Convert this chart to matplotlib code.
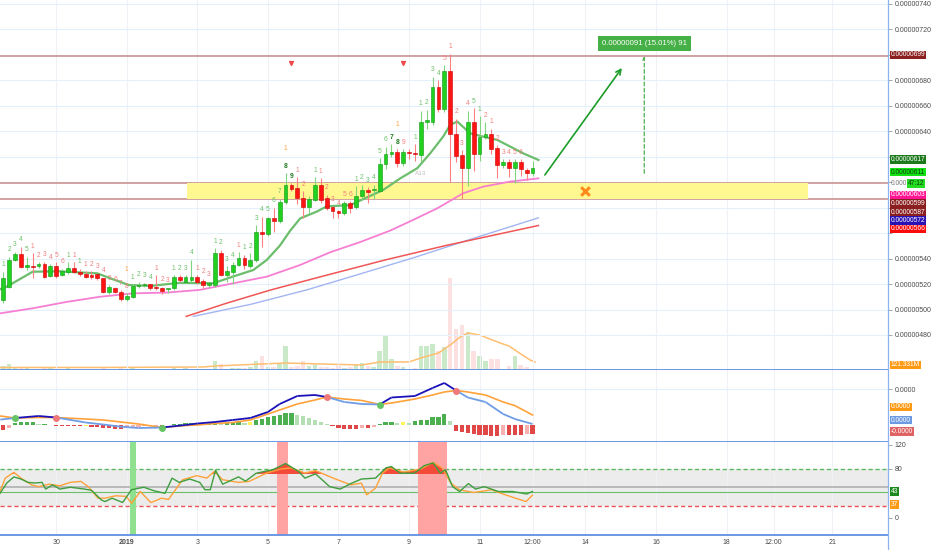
import matplotlib
matplotlib.use("Agg")
import matplotlib.pyplot as plt
from matplotlib.collections import LineCollection
from matplotlib.lines import Line2D
from matplotlib.patches import Rectangle
import numpy as np

plt.rcParams["font.family"] = ["Liberation Sans", "DejaVu Sans"]

# ---- 4h candles, 28 Dec 12:00 -> 12 Jan 12:00, prices in satoshi ----
opens = [507.5, 518.0, 538.9, 543.4, 533.5, 534.5, 534.0, 535.5, 526.6, 534.5,
         527.1, 529.2, 532.4, 529.7, 527.6, 527.0, 527.6, 524.5, 514.0, 517.2,
         514.0, 508.3, 510.1, 518.4, 519.0, 519.8, 518.0, 517.0, 516.4, 516.7,
         525.8, 521.9, 523.2, 525.3, 522.7, 519.3, 519.3, 544.2, 527.1, 529.7,
         535.0, 540.2, 534.2, 538.9, 561.2, 559.3, 571.6, 569.8, 584.7, 597.8,
         595.2, 587.9, 580.8, 586.0, 597.8, 587.3, 580.8, 577.4, 575.6, 583.4,
         580.5, 589.2, 593.9, 593.6, 593.4, 614.3, 622.0, 624.0, 615.4, 624.0,
         623.2, 621.4, 647.0, 647.6, 674.5, 657.3, 687.6, 637.9, 621.4, 611.0,
         647.6, 622.2, 635.3, 637.9, 626.6, 613.5, 616.1, 610.9, 616.1, 609.6,
         607.0]
highs = [529.7, 541.5, 545.5, 549.4, 541.5, 544.1, 537.0, 537.6, 535.5, 537.0,
         532.0, 537.0, 537.0, 532.0, 530.0, 530.0, 528.0, 525.0, 519.0, 518.0,
         515.0, 512.7, 520.0, 522.0, 521.0, 520.0, 527.0, 518.0, 517.0, 527.0,
         527.0, 527.0, 539.0, 527.0, 524.0, 522.0, 548.0, 547.0, 534.0, 537.0,
         545.0, 543.0, 544.0, 566.0, 573.0, 573.0, 580.0, 587.0, 607.0, 599.0,
         604.0, 593.0, 589.0, 604.0, 603.0, 590.0, 581.0, 578.0, 585.0, 585.0,
         597.0, 598.0, 596.0, 598.0, 618.8, 628.0, 630.0, 626.0, 626.0, 626.0,
         630.0, 656.0, 657.0, 683.0, 680.0, 692.0, 701.0, 650.0, 625.0, 656.0,
         658.0, 652.0, 647.0, 642.0, 629.0, 618.0, 618.0, 618.0, 618.0, 611.0,
         617.0]
lows = [504.9, 516.7, 538.1, 532.9, 531.1, 524.5, 532.4, 525.0, 525.8, 524.5,
        526.0, 528.0, 529.0, 526.0, 524.5, 524.0, 523.5, 513.0, 512.0, 513.0,
        507.0, 506.7, 509.0, 517.0, 518.0, 515.0, 515.0, 512.0, 512.7, 515.5,
        522.0, 521.0, 522.0, 520.0, 517.0, 518.0, 518.0, 526.0, 522.0, 520.0,
        534.0, 532.0, 533.0, 537.0, 549.0, 558.0, 561.0, 568.0, 583.0, 593.0,
        583.0, 572.0, 576.0, 585.0, 584.0, 578.0, 572.0, 572.0, 574.0, 576.0,
        579.0, 587.0, 584.0, 587.0, 592.0, 610.0, 620.0, 612.0, 613.0, 618.0,
        617.0, 616.0, 642.0, 645.0, 655.0, 655.0, 600.5, 616.0, 586.6, 597.0,
        609.0, 617.0, 634.0, 622.0, 603.0, 611.0, 604.0, 599.0, 605.0, 602.0,
        605.0]
closes = [524.5, 538.9, 543.4, 533.7, 534.6, 533.7, 535.5, 525.8, 534.5, 526.6,
          530.3, 532.4, 529.7, 527.6, 525.8, 525.5, 524.5, 514.0, 518.0, 514.0,
          508.3, 510.9, 518.8, 519.4, 519.8, 517.2, 516.7, 514.5, 516.7, 525.8,
          523.2, 525.8, 525.8, 521.9, 519.3, 520.6, 544.2, 527.1, 530.5, 535.0,
          540.2, 535.0, 538.9, 561.2, 559.3, 571.6, 569.8, 584.7, 597.8, 594.7,
          587.9, 580.8, 586.8, 597.8, 586.0, 580.0, 577.4, 575.6, 583.4, 579.5,
          589.3, 593.9, 592.6, 594.2, 614.3, 622.2, 623.4, 615.4, 624.0, 622.7,
          622.2, 647.6, 648.5, 674.5, 657.3, 687.6, 637.9, 620.6, 610.9, 647.6,
          622.2, 635.8, 637.9, 625.8, 613.5, 616.1, 610.9, 616.1, 610.1, 607.0,
          611.5]
volume_m = [60, 90, 30, 30, 30, 22, 15, 30, 45, 22, 15, 30, 15, 15, 15, 15, 15, 30, 22, 15,
            30, 22, 30, 15, 15, 15, 15, 22, 15, 30, 22, 30, 15, 22, 15, 15,
            135, 90, 15, 30, 30, 30, 45, 135, 210, 45, 45, 105, 360, 45, 60, 135, 60, 75,
            45, 45, 30, 60, 30, 45, 75, 105, 60, 45, 285, 510, 165, 60, 45, 15, 30, 360,
            360, 390, 285, 345, 1380, 615, 675, 570, 285, 210, 135, 165, 165, 15, 60, 210,
            75, 45, 15]

# volume moving average (bar, millions)
vma_x = [-0.5, 16, 34, 36, 48, 54, 61, 64, 69, 71, 74, 76, 77.7, 79, 81, 84.5, 86, 88, 89.6, 90.4]
vma_v = [38, 38, 45, 60, 105, 90, 75, 120, 120, 180, 255, 375, 495, 555, 525, 405, 360, 240, 150, 121.3]

# moving averages on price (bar, satoshi)
ma_green_x = [-0.5, 0.6, 5, 9.6, 16, 18.2, 21.3, 25, 30, 35.7, 39, 42.5, 44.8, 47, 48.8, 50.5,
              53.3, 55, 59, 64.6, 67.5, 70.4, 72.6, 74.8, 76, 77.2, 79.4, 81.6, 84, 86.2, 88.4, 91]
ma_green_v = [516, 518, 529.7, 530, 528.4, 524.5, 519.3, 518.5, 521, 520.6, 525.8, 531, 538.9, 550,
              562, 571.6, 576.9, 581, 582, 593.9, 603, 611, 622.7, 635.8, 645, 647.6, 638.4, 635.8,
              633.2, 628, 622.7, 617.5]
ma_pink_x = [-0.56, 5.05, 10.8, 16.4, 22.1, 27.8, 33.4, 39.1, 44.8, 50.5, 55.6, 60.7, 65.8, 69.7,
             73.8, 78.2, 81.6, 86.2, 91]
ma_pink_v = [497, 501, 506, 510, 512.7, 513.3, 515.4, 520.6, 525.8, 535, 545, 553, 562, 570.4,
             579.5, 591.3, 596.5, 600.5, 603]
ma_red_x = [31.1, 38, 45.5, 55, 65, 75, 83, 91]
ma_red_v = [494.6, 505, 515.4, 527, 539, 550, 558, 566]
ma_blue_x = [32.3, 42, 51.6, 60, 70, 80, 91]
ma_blue_v = [494.6, 504, 515.4, 527, 541, 556, 572]

# TD sequential counts
td_bar = [0, 1, 2, 3, 4, 5, 6, 7, 8, 9, 10, 11, 12, 13, 14, 15, 16, 17, 18, 19, 20, 21,
          22, 23, 24, 25, 26, 27, 28, 29, 30, 31, 32, 33, 34, 35, 36, 37, 38, 39, 40, 41,
          42, 43, 44, 45, 46, 47, 48, 49, 50, 51, 53, 54, 55, 56, 57, 58, 59, 60, 61, 62,
          63, 64, 65, 66, 67, 68, 70, 71, 72, 73, 74, 75, 76, 77, 78, 79, 80, 81, 82, 83,
          84, 85, 86, 87, 88, 89]
td_txt = ["1", "2", "3", "4", "5", "1", "2", "3", "4", "5", "6", "1", "1", "1", "1", "2", "3", "4", "5", "6", "7", "8",
          "1", "2", "3", "4", "1", "2", "3", "1", "2", "3", "4", "1", "2", "3", "1", "2", "3", "4", "1", "1",
          "2", "3", "4", "5", "6", "7", "8", "9", "1", "2", "1", "1", "2", "3", "4", "5", "6", "1", "2", "3",
          "4", "5", "6", "7", "8", "9", "1", "1", "2", "3", "4", "5", "1", "2", "3", "4", "5", "1", "2", "1",
          "2", "3", "4", "5", "6", "7"]
td_kind = "gggggrrrrrrgrgrrrrrrrrggggrrrggggrrrggggrgggggggGGrrgrrrrrrggggggGGrgggggrrrrrggrrrrrrr"
td_orange = [21, 48, 67]

# drawings
levels = [699, 599, 587]
zone_x = [31.2, 136.9]
zone_v = [587, 599]
sell_marks_x = [49, 68]
sell_marks_v = [694, 694]
target_arrow = [(92.1, 605.7), (105.2, 689.7)]
measure_x = 109
measure_v = [607, 699]
measure_label = "0.00000091 (15.01%) 91"
cross_mark = (98.9, 593)

# MACD (read at bars)
macd_x = [-0.5, 2, 6, 9, 14, 17, 20, 23, 27, 31, 33, 36, 39, 42, 45, 47, 50, 53, 55, 58, 61, 64,
          66, 70, 73, 75, 77, 79, 82, 85, 87, 90]
macd_v = [5.4, 7, 9, 7.5, 2.5, 0.5, -1.7, -3, -2.5, 0, 1.5, 3, 5, 7, 13, 21, 29, 30, 28, 23, 21,
          20.5, 27.5, 29, 37, 42, 34.5, 27.5, 23, 11, 6, 1]
signal_v = [9, 7, 7.5, 7.5, 6, 5, 3, 1, -2.5, -0.5, 0, 1.5, 2.5, 5, 11, 15, 21, 25, 28, 26, 24.5,
            20.5, 22, 26, 30, 33, 34.5, 33, 30, 23, 19.4, 10]
hist = [-5, -3, 2, 3, 3, 3, 1, 1, 0.5, -1, -1, -1, -1, -1, -0.5, -1.5, -2, -3, -3, -4,
        -4, -3, -2, -1.5, -1, -1, -0.5, -0.5, 0.5, 1, 1.5, 2, 2, 1.5, 1, 1, 1.5, 1, 2, 3,
        3, 2, 3, 5, 6, 8, 9, 10, 12, 12, 10, 9, 7, 5, 3, 1, -1, -3, -4, -4,
        -4, -3, -3, -2, 1, 3, 3, 2, 3, 2, 4, 5, 5, 8, 8, 11, 4, -6, -7, -8,
        -9, -10, -10, -11, -11, -10, -10, -10, -10, -9, -9]
hist_yellow = [14, 42, 68]
cross_up = [2, 27, 64]
cross_down = [9, 55, 77]

# RSI and second oscillator
rsi_x = [-0.56, 0.6, 1.8, 3, 4.2, 5.4, 6.6, 7.2, 8.4, 9.6, 11.4, 13.8, 15, 16.7, 17.3, 18.5, 20.3,
         21.8, 23.9, 25.7, 27.5, 28.7, 29.9, 31.7, 33.4, 34.3, 35.2, 36.1, 37.3, 40, 41.2, 43,
         45.9, 48, 50.2, 51.3, 53.1, 55.5, 57.3, 59.1, 60.9, 63.3, 65.1, 66, 67.5, 69.9, 71.6,
         73.1, 74.3, 75.2, 76.4, 77.6, 79.1, 80.3, 81.8, 84.2, 86.6, 89, 90]
rsi_v = [40, 57, 67, 63.5, 58, 57, 58, 47, 54, 47, 50, 47, 45, 29, 26.5, 32, 25, 46, 50, 44, 40,
         65, 58, 63.5, 58, 46, 46, 78, 55, 67, 60, 73, 79, 89, 76, 65, 72, 51, 47, 56, 63.5, 65,
         82, 84, 73, 73, 85.5, 90, 73, 79, 51, 43, 56, 47, 51, 43, 43, 39, 43]
osc_x = [-0.56, 0.33, 1.8, 3, 4.8, 6, 7.8, 9.6, 11.4, 13.2, 14.4, 16.1, 17.3, 19.1, 20.9, 21.8,
         23.3, 25.1, 26.9, 28.1, 30.5, 32.9, 34.6, 35.9, 37.3, 40, 41.8, 44.8, 47.2, 49, 51.3,
         53.1, 56.1, 59.1, 60.9, 61.8, 63.3, 64.5, 65.7, 68.1, 71, 73.1, 74.6, 76.1, 77.6, 80,
         83, 85.4, 87.1, 88.9, 90]
osc_v = [43, 65, 74.5, 65, 54, 51, 55, 52.4, 58, 59.6, 51.3, 32, 32, 36, 35, 23.7, 43, 24.8, 32,
         30, 62.4, 69, 65, 76, 62.4, 58, 59.6, 73.4, 80, 81.7, 73.4, 77.3, 65, 54, 56.8, 37.5,
         48.6, 73.4, 81.7, 75, 80, 91, 81.7, 56.8, 45.8, 41.4, 45.8, 37.5, 32, 26.5, 37]
band_green = [(21.6, 22.6)]
band_red = [(46.6, 48.5), (70.6, 75.5)]

# time axis
xtick_pos = [9, 21, 33, 45, 57, 69, 81, 90, 99, 111, 123, 131, 141]
xtick_txt = ["30", "2019", "3", "5", "7", "9", "11", "12:00", "14", "16", "18", "12:00", "21"]

price_ticks = [480, 500, 520, 540, 560, 580, 600, 620, 640, 660, 680, 700, 720, 740]
price_shown = [480, 500, 520, 540, 640, 660, 680, 720, 740]

# right-hand value boxes: text, face, text colour, y pixel
value_boxes = [
    ("0.00000699", "#8b1e1e", "white", 55),
    ("0.00000617", "#1c7a1c", "white", 159.5),
    ("0.00000611", "#12e212", "#0d3d0d", 172),
    ("0.00000603", "#ff1493", "white", 195),
    ("0.00000599", "#8b1e1e", "white", 203.5),
    ("0.00000587", "#8b1e1e", "white", 212),
    ("0.00000572", "#2a12b4", "white", 220.5),
    ("0.00000566", "#ff0a0a", "white", 229),
    ("121.331M", "#ff9a14", "white", 365),
    ("0.0000", "#ff9a14", "white", 407),
    ("0.0000", "#6d9be3", "white", 420),
    ("-0.0000", "#e06262", "white", 431.5),
    ("43", "#1c8a1c", "white", 491.5),
    ("37", "#ff9a14", "white", 504.5),
]

# ------------------------------------------------------------------
W, H = 932, 550
fig = plt.figure(figsize=(W / 100, H / 100), dpi=100)
fig.patch.set_facecolor("white")


def rect(x0, y0, x1, y1):
    return [x0 / W, 1 - y1 / H, (x1 - x0) / W, (y1 - y0) / H]


XMIN, XMAX = -0.56, 150.45
AXIS_X = 888
SEP = "#5f90e4"

axv = fig.add_axes(rect(0, 0, AXIS_X, 370))
ax = fig.add_axes(rect(0, 0, AXIS_X, 370))
axm = fig.add_axes(rect(0, 370, AXIS_X, 442))
axr = fig.add_axes(rect(0, 442, AXIS_X, 535))

for a in (axv, ax, axm, axr):
    a.set_xlim(XMIN, XMAX)
    for s in a.spines.values():
        s.set_visible(False)
    a.set_xticks(xtick_pos)
    a.tick_params(axis="x", length=0, labelbottom=False)
    a.grid(axis="x", color="#eef2f7", lw=0.8)
    a.set_axisbelow(True)

# separators
for a in (ax, axm, axr):
    a.spines["bottom"].set_visible(True)
    a.spines["bottom"].set_color(SEP)
    a.spines["bottom"].set_linewidth(1.3)
fig.add_artist(Line2D([AXIS_X / W, AXIS_X / W], [0, 1], color="#8db3ef", lw=0.9))

# ---- volume ----
bars = np.arange(len(opens))
o = np.array(opens)
c = np.array(closes)
up = c >= o
axv.set_ylim(0, 5550)
axv.bar(bars, volume_m, width=0.78, color=np.where(up, "#c9e9c9", "#fde0e0"), lw=0)
axv.plot(vma_x, vma_v, color="#ffbf70", lw=1.1)
axv.set_yticks([])
axv.grid(False)

# ---- price panel ----
ax.patch.set_visible(False)
ax.set_ylim(452.5, 743.1)
ax.yaxis.tick_right()
ax.set_yticks(price_ticks)
ax.set_yticklabels([f"{v * 1e-8:.8f}" if v in price_shown else "" for v in price_ticks])
ax.tick_params(axis="y", length=3, width=0.6, color="#9a9a9a", labelsize=5,
               labelcolor="#4a4a4a", pad=2)
ax.grid(axis="y", color="#e4f0fb", lw=0.8)

for lv in levels:
    ax.axhline(lv, color="#d09a9a", lw=1.3, zorder=1)
ax.add_patch(Rectangle((zone_x[0], zone_v[0]), zone_x[1] - zone_x[0], zone_v[1] - zone_v[0],
                       fc="#fff78f", ec="none", zorder=1))

ax.plot(ma_blue_x, ma_blue_v, color="#a3b5f2", lw=1.0, zorder=2)
ax.plot(ma_red_x, ma_red_v, color="#f05656", lw=1.1, zorder=2)
ax.plot(ma_pink_x, ma_pink_v, color="#f77fd3", lw=1.3, zorder=2)
ax.plot(ma_green_x, ma_green_v, color="#6cbd6c", lw=1.6, zorder=2)

body_lo = np.minimum(o, c)
body_h = np.maximum(np.abs(c - o), 0.8)
ax.vlines(bars, lows, highs, colors=np.where(up, "#7fd47f", "#ff8080"), lw=0.8, zorder=3)
ax.bar(bars, body_h, bottom=body_lo, width=0.64, color=np.where(up, "#22d022", "#ff1414"),
       edgecolor=np.where(up, "#129612", "#c80000"), lw=0.4, zorder=4)

td_colors = {"g": "#6cc06c", "r": "#f08080", "G": "#1f7a1f"}
for b, t, k in zip(td_bar, td_txt, td_kind):
    ax.annotate(t, (b, highs[b]), xytext=(0, 2.5), textcoords="offset points", ha="center",
                va="bottom", fontsize=4.8, color=td_colors[k],
                fontweight="bold" if k == "G" else "normal", zorder=5)
for b in td_orange:
    ax.annotate("1", (b, highs[b]), xytext=(0, 15), textcoords="offset points", ha="center",
                va="bottom", fontsize=4.8, color="#ffa040", zorder=5)
ax.text(71, 607, "A13", fontsize=4.6, color="#c0c0c0", ha="center", va="center", zorder=5)

ax.scatter(sell_marks_x, sell_marks_v, marker="v", s=8, color="#f04a4a", zorder=5)
ax.annotate("", xy=target_arrow[1], xytext=target_arrow[0],
            arrowprops=dict(arrowstyle="->", color="#1c9c28", lw=1.2, mutation_scale=9,
                            shrinkA=0, shrinkB=0), zorder=6)
ax.annotate("", xy=(measure_x, measure_v[1]), xytext=(measure_x, measure_v[0]),
            arrowprops=dict(arrowstyle="->", color="#4caf50", lw=0.9, ls=(0, (3, 2)),
                            mutation_scale=5, shrinkA=0, shrinkB=0), zorder=6)
ax.text(measure_x, 709, measure_label, ha="center", va="center", fontsize=5.6, color="white",
        bbox=dict(boxstyle="square,pad=0.5", fc="#45b045", ec="none"), zorder=7)
ax.scatter([cross_mark[0]], [cross_mark[1]], marker="x", s=38, color="#ff8a1c",
           linewidths=2.2, zorder=6)

# ---- MACD panel ----
axm.set_ylim(-17, 55)
axm.yaxis.tick_right()
axm.set_yticks([36])
axm.set_yticklabels(["0.0000"])
axm.tick_params(axis="y", length=3, width=0.6, color="#9a9a9a", labelsize=5,
                labelcolor="#4a4a4a", pad=2)
axm.grid(axis="y", color="#e4f0fb", lw=0.8)

hcol = []
for i, h in enumerate(hist):
    prev = hist[i - 1] if i else h
    if i in hist_yellow:
        hcol.append("#fff35c")
    elif h >= 0:
        hcol.append("#4caf50" if h >= prev else "#b4dfb4")
    else:
        hcol.append("#e04848" if h <= prev else "#f6b0b0")
axm.bar(bars, hist, width=0.72, color=hcol, lw=0, zorder=2)

axm.plot(macd_x, signal_v, color="#ffa23a", lw=1.2, zorder=3)
segs, scol = [], []
for i in range(len(macd_x) - 1):
    segs.append([(macd_x[i], macd_v[i]), (macd_x[i + 1], macd_v[i + 1])])
    above = (macd_v[i] + macd_v[i + 1]) >= (signal_v[i] + signal_v[i + 1])
    scol.append("#1a12b8" if above else "#6f9de6")
axm.add_collection(LineCollection(segs, colors=scol, linewidths=1.3, zorder=4))
for b in cross_up:
    axm.scatter(b, macd_v[macd_x.index(b)], s=16, color="#66c466", zorder=5)
for b in cross_down:
    axm.scatter(b, macd_v[macd_x.index(b)], s=16, color="#f07a7a", zorder=5)

# ---- RSI panel ----
axr.set_ylim(-28.4, 124.3)
axr.yaxis.tick_right()
axr.set_yticks([120, 80, 0])
axr.set_yticklabels(["120", "80", "0"])
axr.tick_params(axis="y", length=3, width=0.6, color="#9a9a9a", labelsize=5,
                labelcolor="#4a4a4a", pad=2)
axr.axhspan(20, 80, color="#ececec", zorder=0.5, lw=0)
axr.axhline(80, color="#5cb85c", lw=1.0, ls=(0, (3, 2)), zorder=1)
axr.axhline(20, color="#f05050", lw=1.0, ls=(0, (3, 2)), zorder=1)
axr.axhline(50, color="#b0b0b0", lw=1.2, zorder=1)
axr.axhline(43, color="#6cc06c", lw=0.8, zorder=1)
for x0, x1 in band_green:
    axr.axvspan(x0, x1, color="#8fe08f", lw=0, zorder=1.2)
for x0, x1 in band_red:
    axr.axvspan(x0, x1, color="#ffa3a3", lw=0, zorder=1.2)

rx, rv = np.array(rsi_x), np.array(rsi_v)
ox, ov = np.array(osc_x), np.array(osc_v)
axr.fill_between(rx, rv, 72, where=rv > 72, interpolate=True, color="#f44a3a", lw=0, zorder=2)
axr.fill_between(ox, ov, 72, where=ov > 72, interpolate=True, color="#f44a3a", lw=0, zorder=2)
axr.plot(ox, ov, color="#ffa23a", lw=1.0, zorder=3)
axr.plot(rx, rv, color="#3f9f3f", lw=1.0, zorder=3)

axr.tick_params(axis="x", labelbottom=True, labelsize=5, labelcolor="#4a4a4a", pad=3)
axr.set_xticklabels(xtick_txt)
for lbl in axr.get_xticklabels():
    if lbl.get_text() == "2019":
        lbl.set_fontweight("bold")

# ---- value boxes on the price scale ----
for txt, fc, tc, yp in value_boxes:
    fig.text(891 / W, 1 - yp / H, txt, ha="left", va="center", fontsize=4.8, color=tc,
             bbox=dict(boxstyle="square,pad=0.08", fc=fc, ec="none"), zorder=10)
fig.text(891 / W, 1 - 183.5 / H, "0.000", ha="left", va="center", fontsize=4.8, color="#777777",
         zorder=10)
fig.text(908 / W, 1 - 183.5 / H, "47:12", ha="left", va="center", fontsize=4.8, color="#0d3d0d",
         bbox=dict(boxstyle="square,pad=0.08", fc="#22dd22", ec="none"), zorder=11)

fig.savefig("out.png", dpi=100, facecolor="white")
